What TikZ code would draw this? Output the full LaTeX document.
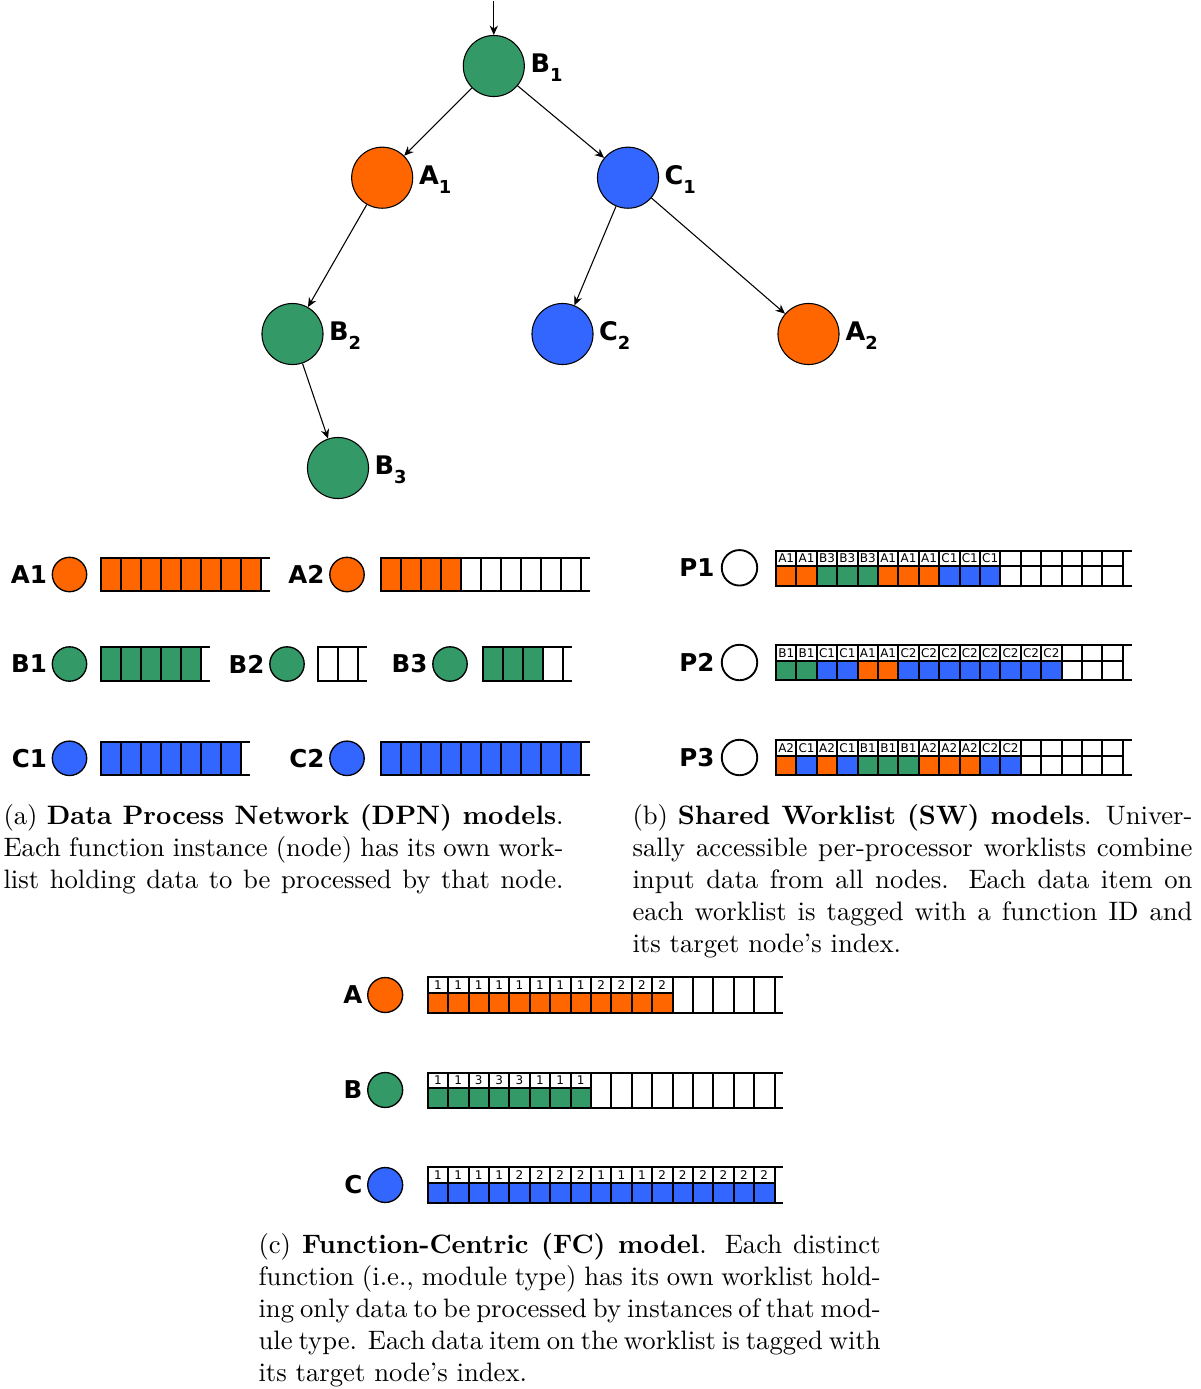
\documentclass[tikz,border=0pt]{standalone}
\usepackage{fontspec}
\newfontfamily\lblfont{DejaVu Sans}
\usetikzlibrary{arrows.meta}

\definecolor{fnA}{RGB}{255,102,0}
\definecolor{fnB}{RGB}{51,153,102}
\definecolor{fnC}{RGB}{51,102,255}

% fill colour of a tag such as "B3": the colour of its function letter
\def\tagfill#1#2\relax{fn#1}
% lowered index after a node name
\newcommand\nidx[1]{\raisebox{-3.4pt}{\fontsize{6.7}{7}\selectfont #1}}

\tikzset{
  treenode/.style={circle, draw, line width=0.4pt, minimum size=22.9pt, inner sep=0pt},
  treelbl/.style={anchor=base west, inner sep=0pt, font=\lblfont\bfseries\fontsize{9.6}{10}\selectfont},
  edge/.style={-{Stealth[length=3.5pt,width=3.1pt]}, line width=0.4pt},
  fnnode/.style={circle, draw, line width=0.5pt, minimum size=12.9pt, inner sep=0pt},
  procnode/.style={circle, draw, fill=white, line width=0.7pt, minimum size=13.3pt, inner sep=0pt},
  fnlbl/.style={anchor=east, inner sep=0pt, font=\lblfont\bfseries\fontsize{9.2}{10}\selectfont},
  cell/.style={draw, line width=0.75pt},
  tagtext/.style={font=\lblfont\fontsize{4.5}{4.5}\selectfont, inner sep=0pt},
  captionline/.style={anchor=base west, inner sep=0pt, font=\fontsize{10}{12}\selectfont}
}

% per-node worklist: left x, centre y, number of cells, list of fills
\newcommand\dpnlist[4]{%
  \foreach \f [count=\i from 0] in {#4}
    \draw[cell, fill=\f] (#1+\i*20, #2-16.7) rectangle +(20, 33.4);
  \draw[cell] (#1+#3*20, #2-16.7) -- +(9,0) (#1+#3*20, #2+16.7) -- +(9,0);
}

% per-processor worklist: name, top y, number of items, tags
\newcommand\swlist[4]{%
  \foreach \t [count=\i from 0] in {#4} {
    \edef\c{\expandafter\tagfill\t\relax}
    \draw[cell, fill=white] (776+\i*20.4, #2) rectangle +(20.4, 15.5);
    \node[tagtext] (#1t\i) at (776+\i*20.4+10.2, #2+7.9) {\t};
    \draw[cell, fill=\c] (776+\i*20.4, #2+15.5) rectangle +(20.4, 19.5);
  }
  \foreach \j in {#3,...,16} {
    \draw[cell, fill=white] (776+\j*20.4, #2) rectangle +(20.4, 15.5);
    \draw[cell, fill=white] (776+\j*20.4, #2+15.5) rectangle +(20.4, 19.5);
  }
  \draw[cell] (776+17*20.4, #2) -- +(9,0) (776+17*20.4, #2+35) -- +(9,0);
}

% per-function worklist: name, top y, number of items, colour, node indices
\newcommand\fclist[5]{%
  \foreach \t [count=\i from 0] in {#5} {
    \draw[cell, fill=white] (427.7+\i*20.4, #2) rectangle +(20.4, 15.5);
    \node[tagtext] (#1t\i) at (427.7+\i*20.4+10.2, #2+7.9) {\t};
    \draw[cell, fill=#4] (427.7+\i*20.4, #2+15.5) rectangle +(20.4, 20);
  }
  \ifnum#3<17
    \foreach \j in {#3,...,16}
      \draw[cell, fill=white] (427.7+\j*20.4, #2) rectangle +(20.4, 35.5);
  \fi
  \draw[cell] (427.7+17*20.4, #2) -- +(8.5,0) (427.7+17*20.4, #2+35.5) -- +(8.5,0);
}

\begin{document}
\begin{tikzpicture}[x=0.375pt, y=-0.375pt]
\useasboundingbox (0,0) rectangle (1201,1389);

% ---------------- module graph ----------------
\node[treenode, fill=fnB] (B1) at (493.8,66) {};
\node[treenode, fill=fnA] (A1) at (382.2,177.7) {};
\node[treenode, fill=fnC] (C1) at (628,177.7) {};
\node[treenode, fill=fnB] (B2) at (292.5,334) {};
\node[treenode, fill=fnC] (C2) at (562.5,334) {};
\node[treenode, fill=fnA] (A2) at (808.5,334) {};
\node[treenode, fill=fnB] (B3) at (338,468) {};

\node[treelbl] (B1l) at (530,72.5) {B\nidx{1}};
\node[treelbl] (A1l) at (418.5,184.2) {A\nidx{1}};
\node[treelbl] (C1l) at (664,184.2) {C\nidx{1}};
\node[treelbl] (B2l) at (328.5,340.5) {B\nidx{2}};
\node[treelbl] (C2l) at (598.5,340.5) {C\nidx{2}};
\node[treelbl] (A2l) at (845,340.5) {A\nidx{2}};
\node[treelbl] (B3l) at (374,474.5) {B\nidx{3}};

\coordinate (src) at (493.8,1);
\draw[edge] (src) -- (B1);
\draw[edge] (B1) -- (A1);
\draw[edge] (B1) -- (C1);
\draw[edge] (A1) -- (B2);
\draw[edge] (C1) -- (C2);
\draw[edge] (C1) -- (A2);
\draw[edge] (B2) -- (B3);

% ---------------- (a) one worklist per node ----------------
\node[fnnode, fill=fnA] (dA1) at (69.5,574.5) {};
\node[fnlbl] (dA1l) at ([xshift=-1.6pt]dA1.west) {A1};
\dpnlist{100.5}{574.5}{8}{fnA,fnA,fnA,fnA,fnA,fnA,fnA,fnA}
\node[fnnode, fill=fnA] (dA2) at (347,574.5) {};
\node[fnlbl] (dA2l) at ([xshift=-1.6pt]dA2.west) {A2};
\dpnlist{380.8}{574.5}{10}{fnA,fnA,fnA,fnA,white,white,white,white,white,white}

\node[fnnode, fill=fnB] (dB1) at (69.5,664) {};
\node[fnlbl] (dB1l) at ([xshift=-1.6pt]dB1.west) {B1};
\dpnlist{100.5}{664}{5}{fnB,fnB,fnB,fnB,fnB}
\node[fnnode, fill=fnB] (dB2) at (287,664) {};
\node[fnlbl] (dB2l) at ([xshift=-1.6pt]dB2.west) {B2};
\dpnlist{318}{664}{2}{white,white}
\node[fnnode, fill=fnB] (dB3) at (450,664) {};
\node[fnlbl] (dB3l) at ([xshift=-1.6pt]dB3.west) {B3};
\dpnlist{482.7}{664}{4}{fnB,fnB,fnB,white}

\node[fnnode, fill=fnC] (dC1) at (69.5,758.3) {};
\node[fnlbl] (dC1l) at ([xshift=-1.6pt]dC1.west) {C1};
\dpnlist{100.5}{758.3}{7}{fnC,fnC,fnC,fnC,fnC,fnC,fnC}
\node[fnnode, fill=fnC] (dC2) at (347,758.3) {};
\node[fnlbl] (dC2l) at ([xshift=-1.6pt]dC2.west) {C2};
\dpnlist{380.8}{758.3}{10}{fnC,fnC,fnC,fnC,fnC,fnC,fnC,fnC,fnC,fnC}

% ---------------- (b) one shared worklist per processor ----------------
\node[procnode] (P1) at (739.5,567.8) {};
\node[fnlbl] (P1l) at ([xshift=-2.2pt]P1.west) {P1};
\swlist{P1}{550.5}{11}{A1,A1,B3,B3,B3,A1,A1,A1,C1,C1,C1}
\node[procnode] (P2) at (739.5,662.5) {};
\node[fnlbl] (P2l) at ([xshift=-2.2pt]P2.west) {P2};
\swlist{P2}{645}{14}{B1,B1,C1,C1,A1,A1,C2,C2,C2,C2,C2,C2,C2,C2}
\node[procnode] (P3) at (739.5,757.5) {};
\node[fnlbl] (P3l) at ([xshift=-2.2pt]P3.west) {P3};
\swlist{P3}{740}{12}{A2,C1,A2,C1,B1,B1,B1,A2,A2,A2,C2,C2}

% ---------------- (c) one worklist per function ----------------
\node[fnnode, fill=fnA, minimum size=13.1pt] (fA) at (385.2,995) {};
\node[fnlbl] (fAl) at ([xshift=-1.6pt]fA.west) {A};
\fclist{fA}{977}{12}{fnA}{1,1,1,1,1,1,1,1,2,2,2,2}
\node[fnnode, fill=fnB, minimum size=13.1pt] (fB) at (385.2,1090) {};
\node[fnlbl] (fBl) at ([xshift=-1.6pt]fB.west) {B};
\fclist{fB}{1072.5}{8}{fnB}{1,1,3,3,3,1,1,1}
\node[fnnode, fill=fnC, minimum size=13.1pt] (fC) at (385.2,1185) {};
\node[fnlbl] (fCl) at ([xshift=-1.6pt]fC.west) {C};
\fclist{fC}{1167.3}{17}{fnC}{1,1,1,1,2,2,2,2,1,1,1,2,2,2,2,2,2}

% ---------------- captions ----------------
\node[captionline] (ca1) at (3,824) {\makebox[210pt][s]{(a) \textbf{Data Process Network (DPN) models}.}};
\node[captionline] (ca2) at (3,856) {\makebox[210pt][s]{Each function instance (node) has its own work-}};
\node[captionline] (ca3) at (3,888) {\makebox[210pt][s]{list holding data to be processed by that node.}};

\node[captionline] (cb1) at (632,824) {\makebox[210pt][s]{(b) \textbf{Shared Worklist (SW) models}. Univer-}};
\node[captionline] (cb2) at (632,856) {\makebox[210pt][s]{sally accessible per-processor worklists combine}};
\node[captionline] (cb3) at (632,888) {\makebox[210pt][s]{input data from all nodes. Each data item on}};
\node[captionline] (cb4) at (632,920) {\makebox[210pt][s]{each worklist is tagged with a function ID and}};
\node[captionline] (cb5) at (632,952) {its target node’s index.};

\node[captionline] (cc1) at (258,1253) {\makebox[233.3pt][s]{(c) \textbf{Function-Centric (FC) model}. Each distinct}};
\node[captionline] (cc2) at (258,1285) {\makebox[233.3pt][s]{function (i.e., module type) has its own worklist hold-}};
\node[captionline] (cc3) at (258,1317) {\makebox[233.3pt][s]{ing only data to be processed by instances of that mod-}};
\node[captionline] (cc4) at (258,1349) {\makebox[233.3pt][s]{ule type. Each data item on the worklist is tagged with}};
\node[captionline] (cc5) at (258,1381) {its target node’s index.};
\end{tikzpicture}
\end{document}
